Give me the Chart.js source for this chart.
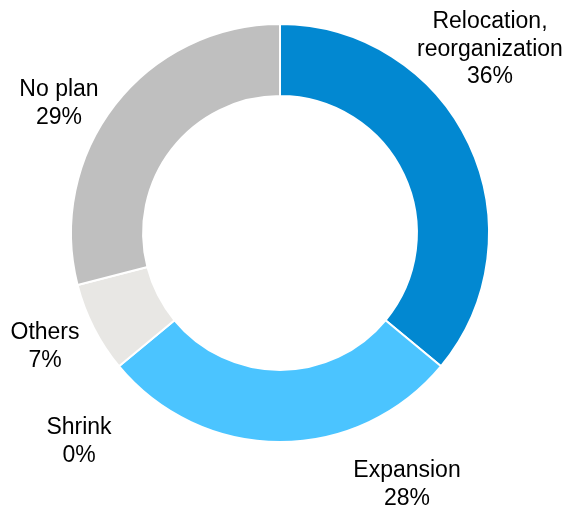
<!DOCTYPE html>
<html>
<head>
<meta charset="utf-8">
<script src="https://cdn.jsdelivr.net/npm/chart.js@4/dist/chart.umd.min.js"></script>
<style>
  html, body { margin: 0; padding: 0; background: #fff; }
  #wrap { width: 570px; height: 510px; position: relative; }
</style>
</head>
<body>
<div id="wrap"><canvas id="chart"></canvas></div>
<script>
// Chart data
const categories = ['Relocation, reorganization', 'Expansion', 'Shrink', 'Others', 'No plan'];
const shares = [36, 28, 0, 7, 29];
const colors = ['#0288D1', '#4BC4FF', '#D9D9D9', '#E8E7E4', '#BFBFBF'];
// label lines per slice
const labelLines = [
  ['Relocation,', 'reorganization', '36%'],
  ['Expansion', '28%'],
  ['Shrink', '0%'],
  ['Others', '7%'],
  ['No plan', '29%']
];

// where each label block is centred (x, y of first line)
const labelAnchors = [[490, 22], [407, 471], [79, 428], [45, 333], [59, 90]];

const sliceLabels = {
  id: 'sliceLabels',
  afterDraw(chart) {
    const ctx = chart.ctx;
    ctx.save();
    ctx.font = '23px "Liberation Sans", Arial, sans-serif';
    ctx.fillStyle = '#000';
    ctx.textAlign = 'center';
    ctx.textBaseline = 'middle';
    labelLines.forEach((lines, i) => {
      const [x, y] = labelAnchors[i];
      lines.forEach((t, j) => ctx.fillText(t, x, y + j * 27.5));
    });
    ctx.restore();
  }
};

new Chart(document.getElementById('chart'), {
  type: 'doughnut',
  data: {
    labels: categories,
    datasets: [{
      data: shares,
      backgroundColor: colors,
      borderColor: '#fff',
      borderWidth: 2
    }]
  },
  options: {
    responsive: true,
    maintainAspectRatio: false,
    animation: false,
    cutout: '65.5%',
    layout: { padding: { left: 70, right: 80, top: 23, bottom: 67 } },
    plugins: {
      legend: { display: false },
      tooltip: { enabled: false }
    }
  },
  plugins: [sliceLabels]
});
</script>
</body>
</html>
